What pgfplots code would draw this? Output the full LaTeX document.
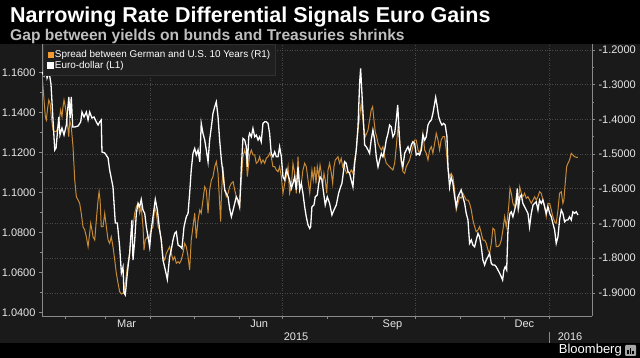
\documentclass[border=0pt]{standalone}
\usepackage{fontspec}
\setmainfont{Liberation Sans}
\usepackage{pgfplots}
\pgfplotsset{compat=1.18}
\usepackage{pgfplotstable}

\definecolor{panel}{HTML}{1A1A1A}
\definecolor{sprd}{HTML}{C88A36}
\definecolor{sprdleg}{HTML}{F39A32}
\definecolor{gridc}{HTML}{4A4A4A}
\definecolor{axisc}{HTML}{8A8A8A}
\definecolor{lbl}{HTML}{E6E6E6}
\definecolor{subt}{HTML}{BEBEBE}
\definecolor{legfill}{HTML}{1F1F1F}
\definecolor{legdraw}{HTML}{303030}

% Euro-dollar (left axis), x = days since 1 Jan 2015
\pgfplotstableread{
d v
15.1 1.1602
16.5 1.1582
17.9 1.1612
18.6 1.1572
20.0 1.1602
21.3 1.1542
22.7 1.1362
23.9 1.1212
24.8 1.1222
26.7 1.1377
27.5 1.1287
28.9 1.1322
30.3 1.1287
31.9 1.1337
33.6 1.1477
34.5 1.1372
35.3 1.1477
36.3 1.1327
37.7 1.1327
40.0 1.1332
41.8 1.1352
42.7 1.1402
44.1 1.1377
45.7 1.1402
46.9 1.1362
48.0 1.1402
49.6 1.1372
51.0 1.1377
52.6 1.1352
53.8 1.1337
54.9 1.1352
56.0 1.1362
56.5 1.1202
58.4 1.1197
60.7 1.1172
61.8 1.1112
64.1 1.1027
65.7 1.0847
67.1 1.0847
68.7 1.0727
69.9 1.0597
71.0 1.0627
71.7 1.0497
72.6 1.0487
74.0 1.0597
75.6 1.0697
77.2 1.0862
77.9 1.0662
79.1 1.0762
80.2 1.0895
81.4 1.0945
82.5 1.0928
83.6 1.0965
84.8 1.0912
86.0 1.0895
87.1 1.0828
88.3 1.0778
89.4 1.0728
90.5 1.0812
91.7 1.0878
93.3 1.0965
94.7 1.0912
96.3 1.0812
97.4 1.0762
98.6 1.0662
100.2 1.0612
101.6 1.0565
103.2 1.0678
104.3 1.0712
105.5 1.0762
106.7 1.0795
107.8 1.0803
109.0 1.0737
110.8 1.0728
111.7 1.0720
113.1 1.0828
114.7 1.0878
115.9 1.0895
117.0 1.0995
118.1 1.1112
119.3 1.1195
120.5 1.1220
121.6 1.1187
122.8 1.1212
124.0 1.1153
125.0 1.1345
126.2 1.1295
127.4 1.1262
128.5 1.1212
129.7 1.1153
130.8 1.1262
132.0 1.1328
133.1 1.1395
134.3 1.1428
135.4 1.1453
136.6 1.1378
137.7 1.1262
138.9 1.1162
140.0 1.1095
141.2 1.1012
142.3 1.0995
143.5 1.0978
144.6 1.0920
145.8 1.0878
147.0 1.0912
148.1 1.0945
149.2 1.0978
150.4 1.0962
151.5 1.0928
152.7 1.1128
153.8 1.1270
155.0 1.1262
156.1 1.1228
156.8 1.1128
157.8 1.1278
158.4 1.1295
159.6 1.1278
160.7 1.1320
161.9 1.1278
163.0 1.1287
164.2 1.1262
165.3 1.1278
166.4 1.1253
167.6 1.1345
168.8 1.1353
169.9 1.1353
171.1 1.1345
172.2 1.1295
173.3 1.1195
174.5 1.1178
175.7 1.1203
176.8 1.1178
178.0 1.1178
179.1 1.1228
180.3 1.1178
181.4 1.1078
182.6 1.1062
183.7 1.1112
184.9 1.1087
186.0 1.1062
187.2 1.1020
188.3 1.1045
189.5 1.1078
190.6 1.1012
191.8 1.1128
193.0 1.1012
194.1 1.1045
195.2 1.0995
196.4 1.0928
197.5 1.0878
198.7 1.0837
199.9 1.0820
200.5 1.0828
201.4 1.0928
202.8 1.0937
203.7 1.0978
205.1 1.0987
206.1 1.1045
207.0 1.1078
208.3 1.1062
209.2 1.1012
210.6 1.0937
212.0 1.0978
213.6 1.0945
215.2 1.0887
216.6 1.0912
218.2 1.0937
219.8 1.0995
221.2 1.1028
222.1 1.1045
223.0 1.1095
224.0 1.1153
225.1 1.1145
226.3 1.1103
227.4 1.1095
228.5 1.1062
229.7 1.1028
230.9 1.1145
232.0 1.1212
233.2 1.1328
234.3 1.1545
235.0 1.1620
235.9 1.1495
236.8 1.1378
237.8 1.1237
238.9 1.1228
240.1 1.1212
241.2 1.1195
242.3 1.1262
243.5 1.1312
244.7 1.1262
245.8 1.1178
247.0 1.1128
248.1 1.1162
249.3 1.1195
250.4 1.1178
251.6 1.1212
252.7 1.1262
253.9 1.1295
255.0 1.1337
256.1 1.1328
257.3 1.1278
258.5 1.1295
259.6 1.1362
260.6 1.1437
262.0 1.1245
263.1 1.1162
264.2 1.1128
265.4 1.1195
266.5 1.1212
267.7 1.1228
268.8 1.1203
270.0 1.1237
271.1 1.1253
272.3 1.1245
273.4 1.1187
274.6 1.1195
275.7 1.1187
276.9 1.1212
278.0 1.1287
279.2 1.1262
280.3 1.1278
281.5 1.1337
282.6 1.1353
283.8 1.1362
284.9 1.1395
286.1 1.1445
286.8 1.1475
287.7 1.1437
288.9 1.1378
290.0 1.1353
291.1 1.1337
292.3 1.1345
293.4 1.1337
294.6 1.1278
295.3 1.1128
296.4 1.1028
297.5 1.1078
298.7 1.1045
299.9 1.0978
301.0 1.0928
302.2 1.0978
303.3 1.0995
304.4 1.1012
305.6 1.0978
306.8 1.0945
307.9 1.0895
309.1 1.0862
310.2 1.0745
311.4 1.0762
312.5 1.0737
313.7 1.0728
314.8 1.0762
316.0 1.0795
317.1 1.0778
318.3 1.0728
319.4 1.0662
320.6 1.0637
321.7 1.0662
322.9 1.0678
324.0 1.0695
325.2 1.0645
326.3 1.0637
327.5 1.0637
328.6 1.0628
329.8 1.0612
331.0 1.0595
332.1 1.0578
333.0 1.0562
333.9 1.0612
334.8 1.0628
335.8 1.0612
336.7 1.0812
337.4 1.0862
338.1 1.0895
339.0 1.0903
340.1 1.0878
341.3 1.0912
342.4 1.0945
343.1 1.1020
344.1 1.0928
345.0 1.0978
345.9 1.0987
347.0 1.0945
348.2 1.0928
349.3 1.0912
350.5 1.0895
351.6 1.0828
352.8 1.0895
354.0 1.0937
355.1 1.0945
356.2 1.0953
357.4 1.0912
358.5 1.0962
359.7 1.0945
360.8 1.0962
362.0 1.0928
363.1 1.0895
364.3 1.0928
365.5 1.0895
366.6 1.0878
367.7 1.0845
368.9 1.0812
370.0 1.0745
371.2 1.0778
372.3 1.0862
373.5 1.0912
374.6 1.0895
375.8 1.0853
376.9 1.0862
378.1 1.0862
379.2 1.0878
380.4 1.0862
381.5 1.0903
382.7 1.0895
383.8 1.0903
385.0 1.0887
}\eurusd

% Spread between German and U.S. 10 years (right axis)
\pgfplotstableread{
d r
15.1 -1.2672
15.8 -1.3058
16.5 -1.3441
17.4 -1.3922
18.1 -1.4017
18.8 -1.3729
19.8 -1.3441
20.7 -1.3536
21.5 -1.3922
22.7 -1.4306
23.9 -1.4355
25.0 -1.4355
26.2 -1.4210
27.3 -1.3922
28.0 -1.3729
28.9 -1.3922
29.6 -1.3634
30.3 -1.3441
31.2 -1.3634
31.9 -1.3824
32.6 -1.4112
33.6 -1.4499
34.2 -1.4017
35.3 -1.4210
36.5 -1.4786
37.7 -1.5747
38.8 -1.6228
40.0 -1.6323
41.1 -1.6418
42.2 -1.6706
43.4 -1.7093
44.6 -1.7188
45.7 -1.7381
46.9 -1.7669
48.0 -1.7283
48.7 -1.6995
49.6 -1.7188
50.3 -1.7381
51.5 -1.7476
52.6 -1.6899
53.8 -1.6323
54.5 -1.6084
55.2 -1.6323
56.0 -1.7093
57.2 -1.7093
58.4 -1.6706
59.5 -1.7093
60.7 -1.7476
61.8 -1.7571
62.9 -1.7381
64.1 -1.7669
65.3 -1.8052
66.4 -1.8436
67.6 -1.8724
68.7 -1.8966
69.9 -1.9032
71.0 -1.9012
71.7 -1.8917
72.6 -1.8724
74.0 -1.8245
75.6 -1.7859
76.7 -1.7283
77.9 -1.7093
79.1 -1.6706
80.2 -1.6516
81.4 -1.6418
82.5 -1.6706
83.6 -1.6516
84.8 -1.7093
85.5 -1.7764
86.4 -1.7476
87.8 -1.7381
88.8 -1.7476
89.7 -1.7283
90.5 -1.7188
91.7 -1.7093
92.9 -1.6516
94.0 -1.6706
95.2 -1.7093
96.3 -1.7188
97.4 -1.7476
98.6 -1.7957
99.8 -1.8052
100.9 -1.7859
102.1 -1.7764
103.2 -1.7669
104.3 -1.7859
105.5 -1.8052
106.7 -1.7957
107.8 -1.8147
109.0 -1.8101
110.1 -1.8147
111.2 -1.8052
112.4 -1.7859
113.6 -1.7571
114.7 -1.7669
115.9 -1.7957
117.0 -1.8340
118.1 -1.7476
119.3 -1.7093
120.5 -1.6706
121.6 -1.7427
122.8 -1.6899
124.0 -1.6611
125.0 -1.6706
126.2 -1.6323
127.4 -1.5940
128.5 -1.6035
129.7 -1.6706
130.8 -1.6035
132.0 -1.5747
133.1 -1.5651
134.3 -1.5363
135.4 -1.5219
136.6 -1.5554
137.7 -1.6418
138.4 -1.6948
138.9 -1.6228
140.0 -1.5363
141.2 -1.6035
142.3 -1.6228
143.5 -1.6130
144.6 -1.5940
145.8 -1.5842
147.0 -1.5796
148.1 -1.6035
149.2 -1.6228
150.4 -1.6418
151.5 -1.6516
152.7 -1.5747
153.8 -1.5075
155.0 -1.4882
156.1 -1.5075
156.8 -1.5651
157.8 -1.5265
158.4 -1.5026
159.6 -1.4882
160.7 -1.5026
161.9 -1.5026
163.0 -1.5265
164.2 -1.5219
165.3 -1.5075
166.4 -1.5265
167.6 -1.5170
168.8 -1.5265
169.9 -1.5121
171.1 -1.5075
172.2 -1.4977
173.3 -1.5075
174.5 -1.5363
175.7 -1.5363
176.8 -1.5458
178.0 -1.5507
179.1 -1.5363
180.3 -1.5651
181.4 -1.6130
182.6 -1.5842
183.7 -1.5651
184.9 -1.5363
186.0 -1.6130
187.2 -1.5940
188.3 -1.5265
189.5 -1.5554
190.6 -1.6130
191.8 -1.5075
193.0 -1.6035
194.1 -1.5842
195.2 -1.5458
196.4 -1.5265
197.5 -1.5363
198.7 -1.5747
199.9 -1.6130
201.4 -1.5458
202.3 -1.5747
203.3 -1.5363
204.2 -1.5842
205.1 -1.5363
206.1 -1.5651
207.0 -1.5314
207.9 -1.5554
208.8 -1.5940
209.7 -1.5554
210.6 -1.5747
211.6 -1.6130
212.5 -1.5458
213.6 -1.5265
214.8 -1.5554
215.7 -1.5842
216.6 -1.5363
217.5 -1.5170
218.5 -1.5121
219.4 -1.5075
220.5 -1.5265
221.6 -1.5121
222.6 -1.5363
223.5 -1.5265
224.4 -1.5458
225.4 -1.5554
226.3 -1.5507
227.4 -1.5554
228.5 -1.5458
229.7 -1.5554
230.9 -1.5170
232.0 -1.4882
233.2 -1.4306
234.3 -1.3922
235.4 -1.3536
236.1 -1.3824
237.1 -1.4210
238.2 -1.4499
239.2 -1.4401
240.1 -1.4306
241.2 -1.4017
242.3 -1.3729
243.3 -1.3634
244.2 -1.4017
245.1 -1.4355
246.1 -1.4499
247.0 -1.4689
248.1 -1.4786
249.3 -1.4882
250.4 -1.4786
251.6 -1.5075
252.7 -1.5265
253.9 -1.5314
255.0 -1.5363
256.1 -1.5410
257.3 -1.5458
258.5 -1.5265
259.6 -1.4786
260.8 -1.4210
262.0 -1.4594
263.1 -1.5265
264.2 -1.5507
265.4 -1.5554
266.5 -1.5363
267.7 -1.5265
268.8 -1.5170
270.0 -1.4977
271.1 -1.4786
272.3 -1.4594
273.4 -1.4594
274.6 -1.4882
275.7 -1.4977
276.9 -1.4786
278.0 -1.4401
279.2 -1.4882
280.3 -1.4977
281.5 -1.5170
282.6 -1.4882
283.8 -1.4786
284.9 -1.4977
286.1 -1.4689
287.2 -1.4401
288.4 -1.4594
289.5 -1.4882
290.6 -1.4594
291.8 -1.4499
293.0 -1.4499
294.1 -1.4882
295.3 -1.5458
296.4 -1.5651
297.5 -1.5554
298.7 -1.5651
299.9 -1.6035
301.0 -1.6611
302.2 -1.6418
303.3 -1.6228
304.4 -1.6274
305.6 -1.6130
306.8 -1.6228
307.9 -1.6323
309.1 -1.6323
310.2 -1.6418
311.4 -1.6611
312.5 -1.6899
313.7 -1.7093
314.8 -1.7237
316.0 -1.7188
317.1 -1.7093
318.3 -1.7283
319.4 -1.7476
320.6 -1.7476
321.7 -1.7571
322.9 -1.7764
324.0 -1.7859
325.2 -1.7571
326.3 -1.7139
327.5 -1.7188
328.6 -1.7669
329.8 -1.7669
331.0 -1.7619
332.1 -1.7476
333.2 -1.7188
334.4 -1.6804
335.5 -1.7093
336.2 -1.6899
337.2 -1.6516
338.1 -1.5985
339.0 -1.6130
340.1 -1.6418
341.3 -1.6516
342.4 -1.6228
343.6 -1.6611
344.8 -1.5940
345.9 -1.6130
347.0 -1.6228
348.2 -1.6130
349.3 -1.6274
350.5 -1.6228
351.6 -1.6323
352.8 -1.6418
354.0 -1.6323
355.1 -1.6228
356.2 -1.6323
357.4 -1.6228
358.5 -1.6084
359.7 -1.6130
360.8 -1.6323
362.0 -1.6516
363.1 -1.6804
364.3 -1.6418
365.5 -1.6418
366.6 -1.6611
367.7 -1.6804
368.9 -1.6948
370.0 -1.6995
371.2 -1.6611
372.3 -1.6130
373.5 -1.6084
374.6 -1.6418
375.3 -1.6323
376.2 -1.5842
377.2 -1.5363
378.1 -1.5265
379.2 -1.5170
380.4 -1.4977
381.5 -1.5026
382.7 -1.5075
383.8 -1.5092
385.0 -1.5092
}\spread

\pgfplotsset{
  common/.style={
    at={(42bp,42bp)}, anchor=south west, scale only axis,
    width=550bp, height=272bp,
    xmin=15.1, xmax=394.7,
    axis line style={draw=axisc, line width=0.6bp},
    tick style={draw=axisc, line width=0.6bp},
    tick align=outside, major tick length=3bp, minor tick length=2bp,
    tick label style={font=\fontsize{11bp}{13bp}\selectfont, text=lbl},
    /pgf/number format/assume math mode=true,
    yticklabel style={/pgf/number format/fixed, /pgf/number format/fixed zerofill, /pgf/number format/precision=4},
    minor y tick num=1,
  }
}

\begin{document}
\begin{tikzpicture}
\useasboundingbox (0,0) rectangle (640bp,358bp);
\fill[black] (0,0) rectangle (640bp,358bp);
\fill[panel] (0,15bp) rectangle (640bp,314bp);
\node[anchor=base west, text=white, font=\bfseries\fontsize{21.5bp}{24bp}\selectfont, inner sep=0] at (10bp,335bp) {Narrowing Rate Differential Signals Euro Gains};
\node[anchor=base west, text=subt, font=\bfseries\fontsize{15.6bp}{18bp}\selectfont, inner sep=0] at (10bp,317.5bp) {Gap between yields on bunds and Treasuries shrinks};

% right axis: spread (R1)
\begin{axis}[common,
  ymin=-1.9666, ymax=-1.1827,
  axis y line*=right, axis x line*=bottom,
  ytick={-1.9,-1.8,-1.7,-1.6,-1.5,-1.4,-1.3,-1.2},
  xtick=\empty,
  extra x ticks={90,181,273,365}, extra x tick labels={},
  extra x tick style={grid=major, major tick length=0pt},
  ymajorgrids,
  grid style={draw=gridc, line width=0.6bp, dash pattern=on 1bp off 1.5bp},
]
\addplot[sprd, line width=1bp] table[x=d, y=r]{\spread};
\end{axis}

% left axis: Euro-dollar (L1)
\begin{axis}[common,
  ymin=1.0382, ymax=1.1742,
  axis y line*=left, axis x line*=bottom,
  ytick={1.04,1.06,1.08,1.10,1.12,1.14,1.16},
  xtick={31,59,90,120,151,181,212,243,273,304,334,365}, xticklabels={},
  extra x ticks={73.5,165,257,348}, extra x tick labels={Mar,Jun,Sep,Dec},
  extra x tick style={major tick length=0pt},
  legend style={at={(axis description cs:0.002,1)}, anchor=north west,
    fill=legfill, draw=legdraw, text=white,
    font=\fontsize{9.9bp}{10bp}\selectfont,
    inner xsep=4bp, inner ysep=5.2bp, row sep=0.5bp,
    nodes={inner sep=0.8bp}},
  legend cell align=left,
]
\addlegendimage{legend image code/.code={\fill[sprdleg] (0bp,-2.8bp) rectangle (5.5bp,2.8bp);}}
\addlegendentry{Spread between German and U.S. 10 Years (R1)}
\addplot[white, line width=1.3bp, legend image code/.code={\fill[white] (0bp,-2.8bp) rectangle (5.5bp,2.8bp);}] table[x=d, y=v]{\eurusd};
\addlegendentry{Euro-dollar (L1)}
\end{axis}

\draw[axisc, line width=0.6bp] (549bp,15bp) -- (549bp,26bp);
\node[text=lbl, font=\fontsize{11bp}{13bp}\selectfont] at (296bp,21bp) {2015};
\node[text=lbl, font=\fontsize{11bp}{13bp}\selectfont] at (570bp,21bp) {2016};
\node[anchor=east, text=white, font=\fontsize{13bp}{15bp}\selectfont, inner sep=0] at (622bp,7.5bp) {Bloomberg};
\fill[gray!70, rounded corners=1bp] (625bp,2bp) rectangle (636bp,13bp);
\fill[black] (627bp,4bp) rectangle (628.5bp,8bp);
\fill[black] (629.5bp,4bp) rectangle (631bp,10bp);
\fill[black] (632bp,4bp) rectangle (633.5bp,7bp);
\end{tikzpicture}
\end{document}
